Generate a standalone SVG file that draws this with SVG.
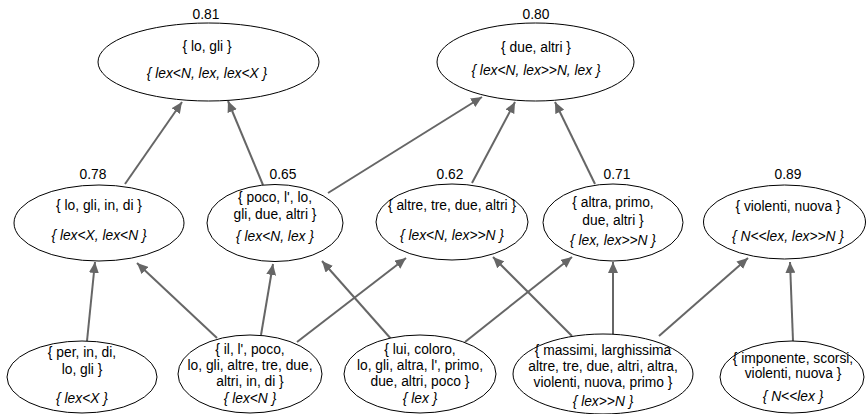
<svg xmlns="http://www.w3.org/2000/svg" width="866" height="414" viewBox="0 0 866 414">
<defs>
<style>
.n ellipse{fill:#fff;stroke:#000;stroke-width:1}
text{font-family:"Liberation Sans",Arial,sans-serif;font-size:13.8px;fill:#000;text-anchor:middle}
.i{font-style:italic}
.e line{stroke:#666;stroke-width:2}
</style>
<marker id="a" markerUnits="userSpaceOnUse" markerWidth="12" markerHeight="10" refX="11" refY="5" orient="auto">
<path d="M0,0 L11,5 L0,10 z" fill="#666"/>
</marker>
</defs>
<rect width="866" height="414" fill="#fff"/>
<g class="e" id="edges">
<line x1="125" y1="184" x2="182" y2="102" marker-end="url(#a)"/>
<line x1="263" y1="185" x2="228" y2="101" marker-end="url(#a)"/>
<line x1="328" y1="193" x2="482" y2="97" marker-end="url(#a)"/>
<line x1="472" y1="183" x2="515" y2="102" marker-end="url(#a)"/>
<line x1="595" y1="184" x2="555" y2="102" marker-end="url(#a)"/>
<line x1="87" y1="341" x2="95" y2="262" marker-end="url(#a)"/>
<line x1="217" y1="338" x2="137" y2="263" marker-end="url(#a)"/>
<line x1="261" y1="335" x2="273" y2="264" marker-end="url(#a)"/>
<line x1="297" y1="342" x2="406" y2="258" marker-end="url(#a)"/>
<line x1="392" y1="340" x2="322" y2="261" marker-end="url(#a)"/>
<line x1="465" y1="342" x2="572" y2="257" marker-end="url(#a)"/>
<line x1="572" y1="336" x2="493" y2="257" marker-end="url(#a)"/>
<line x1="613" y1="334" x2="613" y2="262" marker-end="url(#a)"/>
<line x1="659" y1="336" x2="748" y2="258" marker-end="url(#a)"/>
<line x1="793" y1="341" x2="790" y2="262" marker-end="url(#a)"/>
</g>
<g class="n" id="n081">
<ellipse cx="208.5" cy="62" rx="110.5" ry="39"/>
<text x="206" y="19">0.81</text>
<text x="207" y="51">{ lo, gli }</text>
<text x="207" y="78" class="i">{ lex&lt;N, lex, lex&lt;X }</text>
</g>
<g class="n" id="n080">
<ellipse cx="535.5" cy="62" rx="98.5" ry="39"/>
<text x="536" y="19">0.80</text>
<text x="536" y="52">{ due, altri }</text>
<text x="536" y="75" class="i">{ lex&lt;N, lex&gt;&gt;N, lex }</text>
</g>
<g class="n" id="n078">
<ellipse cx="99" cy="223" rx="85" ry="38"/>
<text x="93" y="178.5">0.78</text>
<text x="99" y="209.5">{ lo, gli, in, di }</text>
<text x="99" y="239.5" class="i">{ lex&lt;X, lex&lt;N }</text>
</g>
<g class="n" id="n065">
<ellipse cx="275" cy="223" rx="68" ry="38.5"/>
<text x="283" y="178.5">0.65</text>
<text x="275" y="202">{ poco, l', lo,</text>
<text x="275" y="218.5">gli, due, altri }</text>
<text x="275" y="241" class="i">{ lex&lt;N, lex }</text>
</g>
<g class="n" id="n062">
<ellipse cx="452" cy="222" rx="76" ry="38"/>
<text x="450" y="178.5">0.62</text>
<text x="452" y="209.5">{ altre, tre, due, altri }</text>
<text x="452" y="239.5" class="i">{ lex&lt;N, lex&gt;&gt;N }</text>
</g>
<g class="n" id="n071">
<ellipse cx="613" cy="222.5" rx="70" ry="38.5"/>
<text x="617" y="178.5">0.71</text>
<text x="613" y="207">{ altra, primo,</text>
<text x="613" y="224.5">due, altri }</text>
<text x="613" y="244.5" class="i">{ lex, lex&gt;&gt;N }</text>
</g>
<g class="n" id="n089">
<ellipse cx="784.5" cy="222" rx="81" ry="37"/>
<text x="788" y="178.5">0.89</text>
<text x="788" y="211">{ violenti, nuova }</text>
<text x="788" y="240.5" class="i">{ N&lt;&lt;lex, lex&gt;&gt;N }</text>
</g>
<g class="n" id="b1">
<ellipse cx="82" cy="377" rx="75" ry="36"/>
<text x="82" y="357">{ per, in, di,</text>
<text x="82" y="373.5">lo, gli }</text>
<text x="82" y="402.5" class="i">{ lex&lt;X }</text>
</g>
<g class="n" id="b2">
<ellipse cx="250" cy="374" rx="72" ry="39"/>
<text x="250" y="353.5">{ il, l', poco,</text>
<text x="250" y="369.5">lo, gli, altre, tre, due,</text>
<text x="250" y="386">altri, in, di }</text>
<text x="250" y="402.5" class="i">{ lex&lt;N }</text>
</g>
<g class="n" id="b3">
<ellipse cx="420" cy="374" rx="76" ry="39"/>
<text x="420" y="353.5">{ lui, coloro,</text>
<text x="420" y="369.5">lo, gli, altra, l', primo,</text>
<text x="420" y="386">due, altri, poco }</text>
<text x="420" y="402.5" class="i">{ lex }</text>
</g>
<g class="n" id="b4">
<ellipse cx="603" cy="374" rx="90" ry="40"/>
<text x="603" y="354.5">{ massimi, larghissima</text>
<text x="603" y="371">altre, tre, due, altri, altra,</text>
<text x="603" y="386.5">violenti, nuova, primo }</text>
<text x="603" y="406" class="i">{ lex&gt;&gt;N }</text>
</g>
<g class="n" id="b5">
<ellipse cx="792" cy="377" rx="72" ry="36"/>
<text x="793" y="362.5">{ imponente, scorsi,</text>
<text x="793" y="377.5">violenti, nuova }</text>
<text x="793" y="401" class="i">{ N&lt;&lt;lex }</text>
</g>
</svg>
